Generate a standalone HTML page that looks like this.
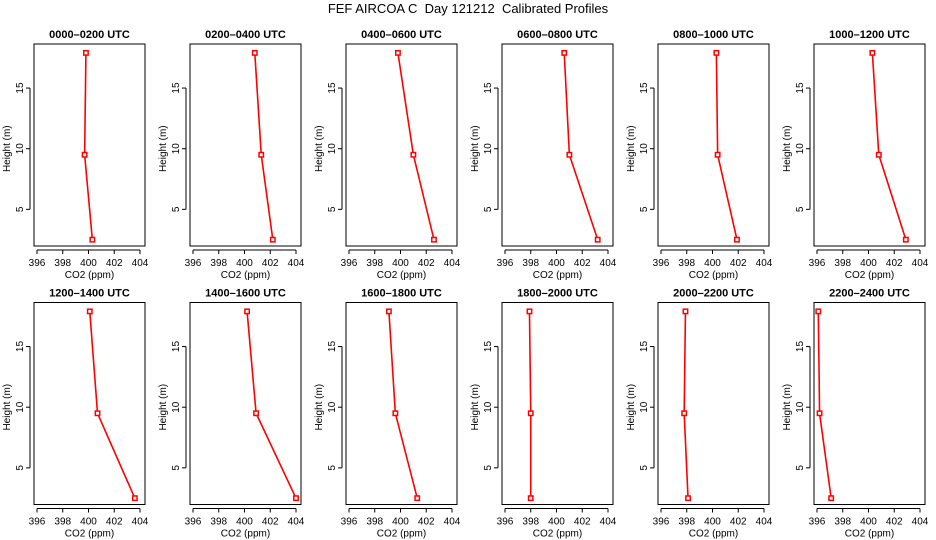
<!DOCTYPE html>
<html><head><meta charset="utf-8"><style>
body{margin:0;background:#fff}
svg{display:block;font-family:"Liberation Sans",sans-serif}
</style></head><body>
<svg id="c" width="936" height="540" xmlns="http://www.w3.org/2000/svg">
<text x="468" y="13" font-size="13" text-anchor="middle" style="white-space:pre">FEF AIRCOA C  Day 121212  Calibrated Profiles</text>
</svg>
<script>
const titles=["0000–0200 UTC","0200–0400 UTC","0400–0600 UTC","0600–0800 UTC","0800–1000 UTC","1000–1200 UTC","1200–1400 UTC","1400–1600 UTC","1600–1800 UTC","1800–2000 UTC","2000–2200 UTC","2200–2400 UTC"];
const heights=[17.9,9.5,2.5];
const co2=[[399.8,399.7,400.3],[400.8,401.3,402.2],[399.8,401.0,402.6],[400.6,401.0,403.2],[400.3,400.4,401.9],[400.3,400.8,402.9],[400.1,400.7,403.6],[400.2,400.9,404.0],[399.1,399.6,401.3],[397.9,398.0,398.0],[397.9,397.8,398.1],[396.1,396.2,397.1]];
const xTicks=[396,398,400,402,404];
const yTicks=[5,10,15];
const svg=document.getElementById('c');
const NS="http://www.w3.org/2000/svg";
function mk(t,a,p){const e=document.createElementNS(NS,t);for(const k in a)e.setAttribute(k,a[k]);(p||svg).appendChild(e);return e;}
titles.forEach((title,i)=>{
  const col=i%6,row=Math.floor(i/6);
  const ox=col*156,oy=row*258.5;
  const g=mk('g',{transform:`translate(${ox},${oy})`});
  
  
  const X=v=>37+(v-396)*12.875;
  const Y=h=>148.7-(h-10)*12.13;
  const box=mk('rect',{x:34,y:44,width:111,height:202,fill:'none',stroke:'#000','stroke-width':1},g);
  
  
  const t=mk('text',{x:89.5,y:38,'font-size':11,'font-weight':'bold','text-anchor':'middle'},g);t.textContent=title;
  
  
  mk('line',{x1:X(396),x2:X(404),y1:250,y2:250,stroke:'#000'},g);
  xTicks.forEach(v=>{mk('line',{x1:X(v),x2:X(v),y1:250,y2:254,stroke:'#000'},g);
    const l=mk('text',{x:X(v),y:266,'font-size':10,'text-anchor':'middle'},g);l.textContent=v;
    
    });
  const xl=mk('text',{x:89.5,y:278,'font-size':10,'text-anchor':'middle'},g);xl.textContent='CO2 (ppm)';
  
  
  mk('line',{x1:30,x2:30,y1:Y(5),y2:Y(15),stroke:'#000'},g);
  yTicks.forEach(v=>{mk('line',{x1:26,x2:30,y1:Y(v),y2:Y(v),stroke:'#000'},g);
    const l=mk('text',{x:0,y:0,'font-size':10,'text-anchor':'middle',transform:`translate(23,${Y(v)}) rotate(-90)`},g);l.textContent=v;
    
    });
  const yl=mk('text',{x:0,y:0,'font-size':10,'text-anchor':'middle',transform:`translate(10,${Y(10)}) rotate(-90)`},g);yl.textContent='Height (m)';
  
  
  const pts=co2[i].map((v,j)=>X(v)+','+Y(heights[j])).join(' ');
  const pl=mk('polyline',{points:pts,fill:'none',stroke:'#f00','stroke-width':1.6},g);
  
  
  co2[i].forEach((v,j)=>{const r=mk('rect',{x:X(v)-2.2,y:Y(heights[j])-2.2,width:4.4,height:4.4,fill:'#fff',stroke:'#f00','stroke-width':1.5},g);
    
    });
});
</script>
</body></html>
